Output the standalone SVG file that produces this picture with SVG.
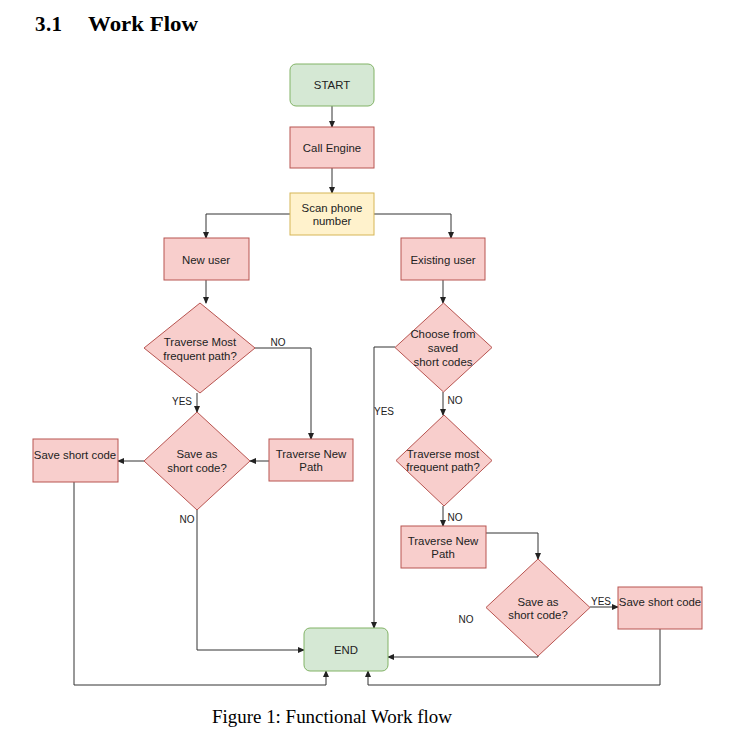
<svg xmlns="http://www.w3.org/2000/svg" width="756" height="735" viewBox="0 0 756 735">
<style>
.g{fill:#d5e8d4;stroke:#82b366;stroke-width:1}
.r{fill:#f8cecc;stroke:#b85450;stroke-width:1}
.y{fill:#fff2cc;stroke:#d6b656;stroke-width:1}
.t{font-family:"Liberation Sans",Arial,sans-serif;font-size:11.4px;fill:#222;text-anchor:middle;dominant-baseline:central}
.l{font-family:"Liberation Sans",Arial,sans-serif;font-size:10px;fill:#222;text-anchor:middle;dominant-baseline:central}
.c{fill:none;stroke:#333;stroke-width:1;marker-end:url(#a)}
.h{font-family:"Liberation Serif","Times New Roman",serif;font-weight:bold;font-size:21px;fill:#000}
.f{font-family:"Liberation Serif","Times New Roman",serif;font-size:18px;fill:#000}
</style>
<defs>
<marker id="a" viewBox="0 0 8 8" refX="7" refY="4" markerWidth="7" markerHeight="7" markerUnits="userSpaceOnUse" orient="auto">
<path d="M0,0.5 L8,4 L0,7.5 Z" fill="#222"/>
</marker>
</defs>
<rect width="756" height="735" fill="#fff"/>
<text class="h" x="35" y="31" textLength="27">3.1</text>
<text class="h" x="88" y="31" textLength="110" lengthAdjust="spacingAndGlyphs">Work Flow</text>
<text class="f" x="212" y="723" textLength="240" lengthAdjust="spacingAndGlyphs">Figure 1: Functional Work flow</text>

<g id="connectors">
<path class="c" d="M332,106 V127"/>
<path class="c" d="M332,168 V193"/>
<path class="c" d="M290,214 H206 V238"/>
<path class="c" d="M374,214 H451 V238"/>
<path class="c" d="M206,280 V303"/>
<path class="c" d="M443,280 V303"/>
<path class="c" d="M255,348 H311 V439"/>
<path class="c" d="M197,393 V412"/>
<path class="c" d="M269,461 H250"/>
<path class="c" d="M144,461 H118"/>
<path class="c" d="M197,510 V650 H304"/>
<path class="c" d="M74,482 V685 H326 V671"/>
<path class="c" d="M395,347 H374 V628"/>
<path class="c" d="M443,392 V415"/>
<path class="c" d="M443,506 V526"/>
<path class="c" d="M486,533 H538 V559"/>
<path class="c" d="M590,607 H618"/>
<path class="c" d="M538,656 V657 H388"/>
<path class="c" d="M660,629 V685 H368 V671"/>
<text class="l" x="278" y="342">NO</text>
<text class="l" x="182" y="401">YES</text>
<text class="l" x="187" y="519">NO</text>
<text class="l" x="384" y="411">YES</text>
<text class="l" x="455" y="400">NO</text>
<text class="l" x="455" y="517">NO</text>
<text class="l" x="601" y="601">YES</text>
<text class="l" x="466" y="619">NO</text>
</g>

<g id="start"><rect class="g" x="290" y="64" width="84" height="42" rx="6"/><text class="t" x="332" y="85">START</text></g>
<g id="call-engine"><rect class="r" x="290" y="127" width="84" height="41"/><text class="t" x="332" y="148">Call Engine</text></g>
<g id="scan-phone"><rect class="y" x="290" y="193" width="84" height="42"/><text class="t" x="332" y="208">Scan phone</text><text class="t" x="332" y="221">number</text></g>
<g id="new-user"><rect class="r" x="164" y="238" width="85" height="42"/><text class="t" x="206" y="260">New user</text></g>
<g id="existing-user"><rect class="r" x="401" y="238" width="84" height="42"/><text class="t" x="443" y="260">Existing user</text></g>
<g id="traverse-most-1"><path class="r" d="M200,303 L255,348 L200,393 L144,348 Z"/><text class="t" x="200" y="342">Traverse Most</text><text class="t" x="200" y="356">frequent path?</text></g>
<g id="traverse-new-1"><rect class="r" x="269" y="439" width="84" height="42"/><text class="t" x="311" y="454">Traverse New</text><text class="t" x="311" y="467">Path</text></g>
<g id="save-as-1"><path class="r" d="M197,412 L250,461 L197,510 L144,461 Z"/><text class="t" x="197" y="454">Save as</text><text class="t" x="197" y="468">short code?</text></g>
<g id="save-code-1"><rect class="r" x="33" y="439" width="85" height="43"/><text class="t" x="75" y="455">Save short code</text></g>
<g id="choose-saved"><path class="r" d="M443.5,303 L492,347.5 L443.5,392 L395,347.5 Z"/><text class="t" x="443" y="334">Choose from</text><text class="t" x="443" y="348">saved</text><text class="t" x="443" y="362">short codes</text></g>
<g id="traverse-most-2"><path class="r" d="M444,415 L492,460.5 L444,506 L396,460.5 Z"/><text class="t" x="443" y="454">Traverse most</text><text class="t" x="443" y="467">frequent path?</text></g>
<g id="traverse-new-2"><rect class="r" x="401" y="526" width="85" height="42"/><text class="t" x="443" y="541">Traverse New</text><text class="t" x="443" y="554">Path</text></g>
<g id="save-as-2"><path class="r" d="M538,559 L590,607.5 L538,656 L486,607.5 Z"/><text class="t" x="538" y="602">Save as</text><text class="t" x="538" y="615">short code?</text></g>
<g id="save-code-2"><rect class="r" x="618" y="587" width="84" height="42"/><text class="t" x="660" y="602">Save short code</text></g>
<g id="end"><rect class="g" x="304" y="628" width="84" height="43" rx="6"/><text class="t" x="346" y="650">END</text></g>
</svg>
